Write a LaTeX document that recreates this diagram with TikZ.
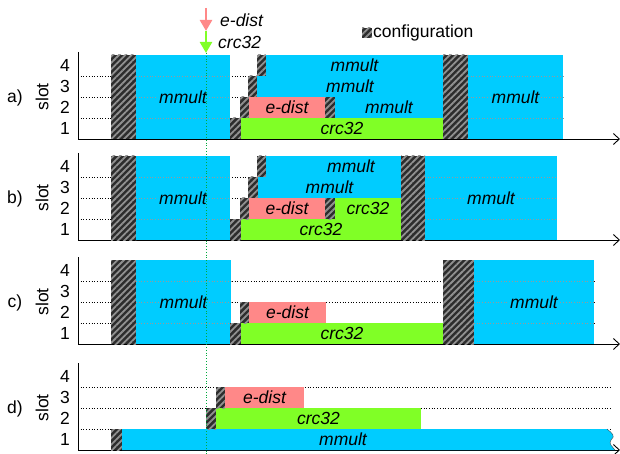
\documentclass[tikz,border=0pt]{standalone}
\usepackage{fontspec}
\setmainfont{Liberation Sans}
\usepackage{tikz}
\usetikzlibrary{patterns.meta,arrows.meta,calc}

\definecolor{mmblue}{RGB}{0,204,255}
\definecolor{crcgreen}{RGB}{128,255,38}
\definecolor{edpink}{RGB}{255,136,136}
\definecolor{cfgdark}{RGB}{45,45,45}
\definecolor{cfglight}{RGB}{145,145,145}
\definecolor{markgreen}{RGB}{0,170,60}

% one job box: style, name, x1, y1, x2, y2, text
\newcommand{\job}[7]{%
  \node[#1, minimum width={(#5-#3)*1pt}, minimum height={(#6-#4)*1pt}]
    (#2) at ({(#3+#5)/2},{(#4+#6)/2}) {#7};}

\begin{document}
\begin{tikzpicture}[x=1pt, y=-1pt,
    font=\fontsize{17.5}{20}\selectfont,
    box/.style={inner sep=0pt, outer sep=0pt, font=\fontsize{17.5}{20}\selectfont\itshape},
    mm/.style={box, fill=mmblue},
    crc/.style={box, fill=crcgreen},
    ed/.style={box, fill=edpink},
    cfg/.style={box, preaction={fill=cfgdark},
      pattern={Lines[angle=45, distance=4.5pt, line width=1.8pt]}, pattern color=cfglight},
    jobtext/.style={font=\fontsize{17.5}{20}\selectfont\itshape, inner sep=1pt},
    slotline/.style={dotted, line width=0.7pt},
    grayline/.style={dotted, line width=0.7pt, black!40},
    axis/.style={line width=0.9pt, -{Straight Barb[length=6pt, width=11pt]}}]
    \useasboundingbox (0,0) rectangle (620,454);

    % Axes and slot lines
    \foreach \p/\b/\e in {a/139/563, b/240/557, c/344/594, d/450/612} {
      \coordinate (top\p) at (78,\b-87);
      \coordinate (end\p) at (620,\b);
      \foreach \k in {1,2,3}
        \draw[slotline] (78,\b-21*\k) -- (\e,\b-21*\k);
      \draw[axis] (top\p) |- (end\p);
      \node(lab\p) at (15,\b-41) {\p)};
      \node[rotate=90](slot\p) at (42,\b-42) {slot};
      \foreach \k in {1,2,3,4}
        \node(n\p\k) at (65,\b-21*\k+10.5) {\k};
    }

    % a)
    \job{cfg}{a0}{111}{55}{136}{139}{}
    \job{mm}{a1}{136}{55}{230}{139}{}
    \job{cfg}{a2}{230}{118}{241}{139}{}
    \job{crc}{a3}{241}{118}{443}{139}{crc32}
    \job{cfg}{a4}{240}{97}{249}{118}{}
    \job{ed}{a5}{249}{97}{325}{118}{e-dist}
    \job{cfg}{a6}{325}{97}{335}{118}{}
    \job{mm}{a7}{335}{97}{443}{118}{mmult}
    \job{cfg}{a8}{248}{76}{257}{97}{}
    \job{mm}{a9}{257}{76}{443}{97}{mmult}
    \job{cfg}{a10}{257}{55}{266}{76}{}
    \job{mm}{a11}{266}{55}{443}{76}{mmult}
    \job{cfg}{a12}{443}{55}{468}{139}{}
    \job{mm}{a13}{468}{55}{563}{139}{}

    % b)
    \job{cfg}{b0}{111}{156}{136}{240}{}
    \job{mm}{b1}{136}{156}{230}{240}{}
    \job{cfg}{b2}{230}{219}{241}{240}{}
    \job{crc}{b3}{241}{219}{401}{240}{crc32}
    \job{cfg}{b4}{240}{198}{249}{219}{}
    \job{ed}{b5}{249}{198}{325}{219}{e-dist}
    \job{cfg}{b6}{325}{198}{335}{219}{}
    \job{crc}{b7}{335}{198}{401}{219}{crc32}
    \job{cfg}{b8}{248}{177}{258}{198}{}
    \job{mm}{b9}{258}{177}{401}{198}{mmult}
    \job{cfg}{b10}{257}{156}{266}{177}{}
    \job{mm}{b11}{266}{156}{401}{177}{}
    \node[jobtext](b11t) at (351,166.5) {mmult};
    \job{cfg}{b12}{401}{156}{425}{240}{}
    \job{mm}{b13}{425}{156}{557}{240}{}

    % c)
    \job{cfg}{c0}{111}{260}{136}{344}{}
    \job{mm}{c1}{136}{260}{231}{344}{}
    \job{cfg}{c2}{230}{323}{241}{344}{}
    \job{crc}{c3}{241}{323}{443}{344}{crc32}
    \job{cfg}{c4}{240}{302}{249}{323}{}
    \job{ed}{c5}{249}{302}{326}{323}{e-dist}
    \job{cfg}{c6}{443}{260}{474}{344}{}
    \job{mm}{c7}{474}{260}{594}{344}{}

    % d)
    \job{cfg}{d0}{111}{429}{122}{450}{}
    \fill[mmblue] (122,429) -- (607,429) .. controls (612,433) and (616,436) .. (611,440)
      .. controls (608,444) and (613,447) .. (615,450) -- (122,450) -- cycle;
    \draw[black!70, thin] (607,429) .. controls (612,433) and (616,436) .. (611,440)
      .. controls (608,444) and (613,447) .. (615,450);
    \node[jobtext](d1) at (343,439.5) {mmult};
    \job{cfg}{d2}{206}{408}{216}{429}{}
    \job{crc}{d3}{216}{408}{421}{429}{crc32}
    \job{cfg}{d4}{216}{387}{225}{408}{}
    \job{ed}{d5}{225}{387}{304}{408}{e-dist}

    % slot lines seen through the long mmult boxes, labels on top
    \foreach \n in {a1,a13,b1,b13,c1,c7} {
      \foreach \k in {1,2,3}
        \draw[grayline] ($(\n.south west)!\k/4!(\n.north west)$)
          -- ($(\n.south east)!\k/4!(\n.north east)$);
      \node[jobtext, fill=mmblue](\n t) at (\n) {mmult};
    }

    % Arrival marks
    \coordinate (ed0) at (206,8);
    \coordinate (ed1) at (206,31);
    \coordinate (cr1) at (206,53);
    \coordinate (bot) at (206,454);
    \draw[markgreen, dotted, line width=0.8pt] (cr1) -- (bot);
    \draw[edpink, line width=2.5pt, -{Triangle[length=11pt, width=12pt]}] (ed0) -- (ed1);
    \draw[crcgreen, line width=2.5pt, -{Triangle[length=11pt, width=12pt]}] (ed1) -- (cr1);
    \node[anchor=west, jobtext](edl) at (219,20) {e-dist};
    \node[anchor=west, jobtext](crl) at (217,42) {crc32};

    % Legend
    \node[cfg, minimum size=10pt](lg) at (367,33) {};
    \node[anchor=west, inner sep=1pt](lgt) at (lg.east) {configuration};
\end{tikzpicture}
\end{document}
